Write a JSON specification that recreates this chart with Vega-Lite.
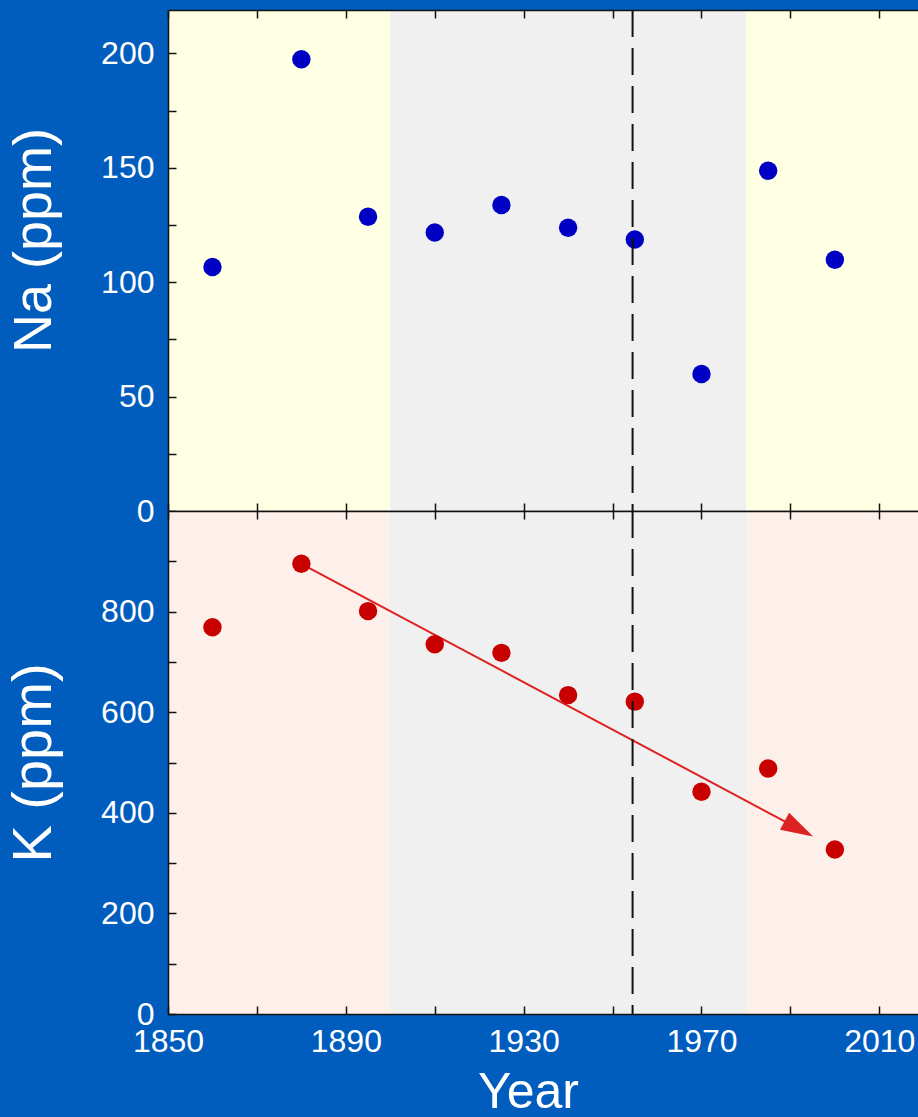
{
  "$schema": "https://vega.github.io/schema/vega-lite/v6.json",
  "background": "#005DBE",
  "padding": {"left": 5, "top": 9, "right": 0, "bottom": 0},
  "spacing": 0,
  "bounds": "flush",
  "config": {
    "view": {"stroke": null},
    "axis": {
      "zindex": 2,
      "domainColor": "#111111",
      "domainWidth": 1.5,
      "tickColor": "#111111",
      "tickWidth": 1.5,
      "tickSize": -8,
      "grid": false,
      "labelColor": "white",
      "titleColor": "white",
      "labelFont": "Liberation Sans",
      "titleFont": "Liberation Sans",
      "labelFontSize": 32,
      "titleFontWeight": "normal",
      "labelFlush": false
    }
  },
  "datasets": {
    "bands": [
      {"start": 1850, "end": 2020, "zone": "outer"},
      {"start": 1900, "end": 1980, "zone": "between"}
    ],
    "divide": [{"year": 1954.5}],
    "samples": [
      {"year": 1860, "Na": 106.7, "K": 769},
      {"year": 1880, "Na": 197.5, "K": 895},
      {"year": 1895, "Na": 128.6, "K": 801},
      {"year": 1910, "Na": 121.7, "K": 735},
      {"year": 1925, "Na": 133.8, "K": 718},
      {"year": 1940, "Na": 123.8, "K": 634},
      {"year": 1955, "Na": 118.7, "K": 621},
      {"year": 1970, "Na": 59.9, "K": 442},
      {"year": 1985, "Na": 148.7, "K": 488},
      {"year": 2000, "Na": 109.8, "K": 327}
    ],
    "trend": [
      {"year": 1880, "K": 895},
      {"year": 1991.9, "K": 368}
    ],
    "head": [{"year": 1991.9, "K": 368}]
  },
  "vconcat": [
    {
      "width": 750,
      "height": 501,
      "layer": [
        {
          "data": {"name": "bands"},
          "mark": {"type": "rect", "clip": true},
          "encoding": {
            "x": {"field": "start", "type": "quantitative",
                  "scale": {"domain": [1850, 2018.7], "nice": false, "zero": false},
                  "axis": {"orient": "bottom", "zindex": 2, "values": [1850, 1870, 1890, 1910, 1930, 1950, 1970, 1990, 2010], "labels": false, "title": null}},
            "x2": {"field": "end"},
            "color": {"field": "zone", "type": "nominal",
                      "scale": {"domain": ["outer", "between"], "range": ["#FFFFE3", "#F0F0F0"]},
                      "legend": null}
          }
        },
        {
          "data": {"name": "samples"},
          "mark": {"type": "point", "shape": "circle", "filled": true, "size": 340, "color": "#0000C4", "opacity": 1},
          "encoding": {
            "x": {"field": "year", "type": "quantitative",
                  "scale": {"domain": [1850, 2018.7], "nice": false, "zero": false},
                  "axis": {"orient": "top", "zindex": 2, "values": [1850, 1870, 1890, 1910, 1930, 1950, 1970, 1990, 2010], "labels": false, "title": null}},
            "y": {"field": "Na", "type": "quantitative",
                  "scale": {"domain": [0, 219], "nice": false},
                  "axis": {"zindex": 2, "values": [0, 25, 50, 75, 100, 125, 150, 175, 200],
                           "labelExpr": "datum.value % 50 === 0 ? datum.label : ''",
                           "labelPadding": 22,
                           "title": "Na (ppm)", "titleFontSize": 54, "titleBaseline": "alphabetic",
                           "titleY": 230,
                           "minExtent": 80, "maxExtent": 80, "titlePadding": 38}}
          }
        },
        {
          "data": {"name": "divide"},
          "mark": {"type": "rule", "strokeDash": [27, 11], "strokeWidth": 2, "color": "#111111"},
          "encoding": {
            "x": {"field": "year", "type": "quantitative",
                  "scale": {"domain": [1850, 2018.7], "nice": false, "zero": false},
                  "axis": null}
          }
        }
      ],
      "resolve": {"axis": {"x": "independent"}}
    },
    {
      "width": 750,
      "height": 503,
      "layer": [
        {
          "data": {"name": "bands"},
          "mark": {"type": "rect", "clip": true},
          "encoding": {
            "x": {"field": "start", "type": "quantitative",
                  "scale": {"domain": [1850, 2018.7], "nice": false, "zero": false},
                  "axis": {"orient": "bottom", "zindex": 2, "values": [1850, 1870, 1890, 1910, 1930, 1950, 1970, 1990, 2010],
                           "format": "d",
                           "labelExpr": "(datum.value - 1850) % 40 === 0 ? datum.label : ''",
                           "labelPadding": 20,
                           "title": "Year", "titleFontSize": 50, "titleBaseline": "alphabetic",
                           "minExtent": 50, "maxExtent": 50, "titlePadding": 43, "titleX": 360}},
            "x2": {"field": "end"},
            "color": {"field": "zone", "type": "nominal",
                      "scale": {"domain": ["outer", "between"], "range": ["#FDF0EA", "#F0F0F0"]},
                      "legend": null}
          }
        },
        {
          "data": {"name": "trend"},
          "mark": {"type": "line", "color": "#DD2222", "strokeWidth": 2},
          "encoding": {
            "x": {"field": "year", "type": "quantitative",
                  "scale": {"domain": [1850, 2018.7], "nice": false, "zero": false},
                  "axis": {"orient": "top", "zindex": 2, "values": [1850, 1870, 1890, 1910, 1930, 1950, 1970, 1990, 2010], "labels": false, "title": null}},
            "y": {"field": "K", "type": "quantitative",
                  "scale": {"domain": [0, 1000], "nice": false},
                  "axis": {"zindex": 2, "values": [0, 100, 200, 300, 400, 500, 600, 700, 800, 900],
                           "labelExpr": "datum.value % 200 === 0 ? datum.label : ''",
                           "labelPadding": 22,
                           "title": "K (ppm)", "titleFontSize": 56, "titleBaseline": "alphabetic",
                           "minExtent": 80, "maxExtent": 80, "titlePadding": 38}}
          }
        },
        {
          "data": {"name": "head"},
          "mark": {"type": "point", "shape": "M1,0L-1,-0.6L-1,0.6Z", "filled": true, "size": 1050, "angle": 28, "color": "#DD2222", "opacity": 1},
          "encoding": {
            "x": {"field": "year", "type": "quantitative",
                  "scale": {"domain": [1850, 2018.7], "nice": false, "zero": false}, "axis": null},
            "y": {"field": "K", "type": "quantitative", "scale": {"domain": [0, 1000], "nice": false}}
          }
        },
        {
          "data": {"name": "samples"},
          "mark": {"type": "point", "shape": "circle", "filled": true, "size": 340, "color": "#C80000", "opacity": 1},
          "encoding": {
            "x": {"field": "year", "type": "quantitative",
                  "scale": {"domain": [1850, 2018.7], "nice": false, "zero": false}, "axis": null},
            "y": {"field": "K", "type": "quantitative", "scale": {"domain": [0, 1000], "nice": false}}
          }
        },
        {
          "data": {"name": "divide"},
          "mark": {"type": "rule", "strokeDash": [27, 11], "strokeWidth": 2, "color": "#111111"},
          "encoding": {
            "x": {"field": "year", "type": "quantitative",
                  "scale": {"domain": [1850, 2018.7], "nice": false, "zero": false},
                  "axis": null}
          }
        }
      ],
      "resolve": {"axis": {"x": "independent"}}
    }
  ],
  "resolve": {"scale": {"color": "independent"}}
}
